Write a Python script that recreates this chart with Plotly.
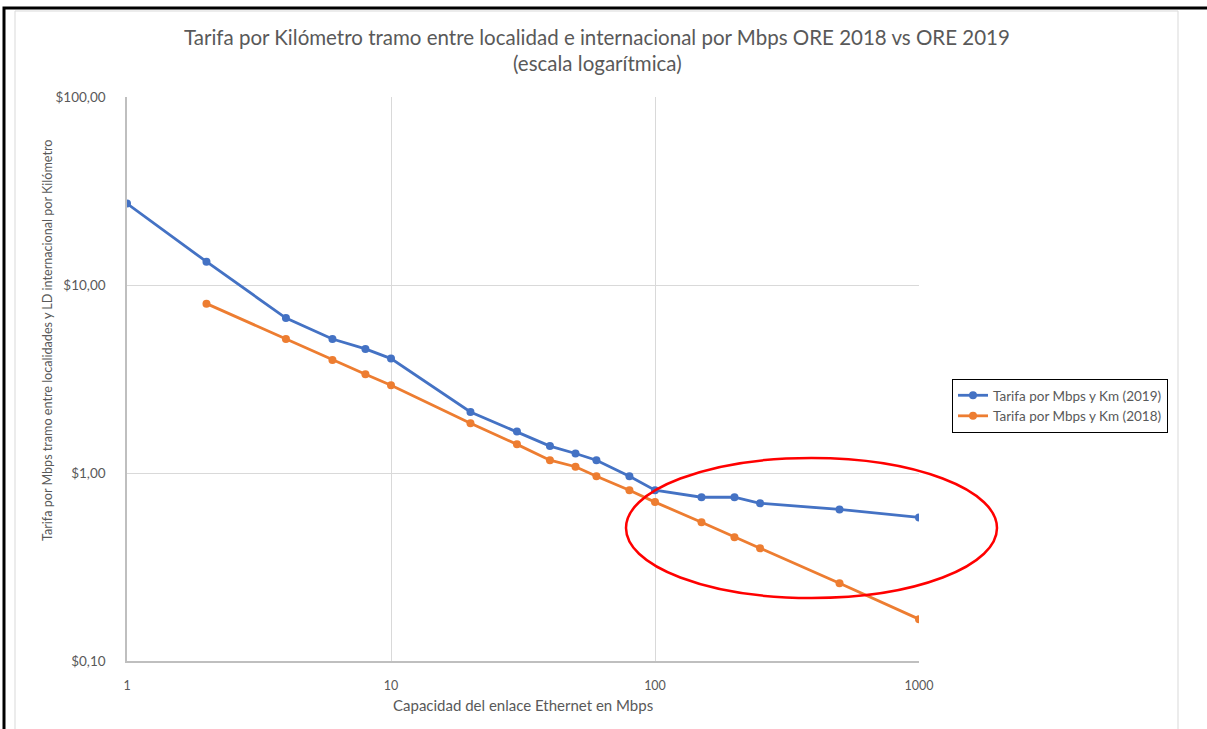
import plotly.graph_objects as go

# Data
capacidad_2019 = [1, 2, 4, 6, 8, 10, 20, 30, 40, 50, 60, 80, 100, 150, 200, 250, 500, 1000]
tarifa_2019 = [27.1, 13.3, 6.67, 5.16, 4.57, 4.06, 2.11, 1.66, 1.39, 1.27, 1.17, 0.96, 0.81,
               0.743, 0.743, 0.69, 0.64, 0.58]
capacidad_2018 = [2, 4, 6, 8, 10, 20, 30, 40, 50, 60, 80, 100, 150, 200, 250, 500, 1000]
tarifa_2018 = [7.96, 5.16, 3.99, 3.35, 2.93, 1.84, 1.42, 1.17, 1.08, 0.96, 0.81, 0.70,
               0.547, 0.455, 0.398, 0.259, 0.167]
x_ticks = [1, 10, 100, 1000]
x_ticktext = ["1", "10", "100", "1000"]
y_ticks = [0.1, 1, 10, 100]
y_ticktext = ["$0,10", "$1,00", "$10,00", "$100,00"]
title_lines = ["Tarifa por Kilómetro tramo entre localidad e internacional por Mbps ORE 2018 vs ORE 2019",
               "(escala logarítmica)"]
x_title = "Capacidad del enlace Ethernet en Mbps"
y_title = "Tarifa por Mbps tramo entre localidades y LD internacional por Kilómetro"

FONT = "Lato, 'Open Sans', sans-serif"
GRAY = "#595959"

W, H = 1207, 729
L, R, T, B = 127, 919, 97, 661


def px(x):
    return (x - L) / (R - L)


def py(y):
    return (B - y) / (B - T)


fig = go.Figure()
fig.add_trace(go.Scatter(
    x=capacidad_2019, y=tarifa_2019, mode="lines+markers",
    name="Tarifa por Mbps y Km (2019)",
    line=dict(color="#4472C4", width=2.8),
    marker=dict(color="#4472C4", size=8),
))
fig.add_trace(go.Scatter(
    x=capacidad_2018, y=tarifa_2018, mode="lines+markers",
    name="Tarifa por Mbps y Km (2018)",
    line=dict(color="#ED7D31", width=2.8),
    marker=dict(color="#ED7D31", size=8),
))

shapes = [
    # chart area light border
    dict(type="rect", xref="paper", yref="paper", x0=px(15), y0=py(745), x1=px(1178), y1=py(11),
         line=dict(color="#D9D9D9", width=1), layer="below"),
    # outer black frame (top and left edges visible)
    dict(type="rect", xref="paper", yref="paper", x0=px(4), y0=py(750), x1=px(1220), y1=py(8),
         line=dict(color="black", width=3)),
    # red ellipse
    dict(type="circle", xref="paper", yref="paper", x0=px(626), x1=px(997),
         y0=py(598), y1=py(458), line=dict(color="#FF0000", width=2.5)),
]

annotations = [
    dict(text=title_lines[0], xref="paper", yref="paper", x=px(597), y=py(37),
         xanchor="center", yanchor="middle", showarrow=False,
         font=dict(family=FONT, size=20.5, color=GRAY)),
    dict(text=title_lines[1], xref="paper", yref="paper", x=px(597), y=py(63),
         xanchor="center", yanchor="middle", showarrow=False,
         font=dict(family=FONT, size=20.5, color=GRAY)),
    dict(text=y_title, xref="paper", yref="paper", x=px(47), y=py(341),
         xanchor="center", yanchor="middle", showarrow=False, textangle=-90,
         font=dict(family=FONT, size=12.6, color=GRAY)),
    dict(text=x_title, xref="paper", yref="paper", x=px(523), y=py(705),
         xanchor="center", yanchor="middle", showarrow=False,
         font=dict(family=FONT, size=15, color=GRAY)),
]

fig.update_layout(
    width=W, height=H,
    margin=dict(l=L, r=W - R, t=T, b=H - B),
    paper_bgcolor="white", plot_bgcolor="white",
    font=dict(family=FONT, color=GRAY, size=12),
    xaxis=dict(
        type="log", range=[0, 3],
        tickvals=x_ticks, ticktext=x_ticktext,
        showgrid=True, gridcolor="#D9D9D9", gridwidth=1,
        showline=True, linecolor="#BFBFBF", linewidth=1.5,
        ticks="", ticklabelstandoff=12,
        tickfont=dict(size=12.5, color=GRAY),
        zeroline=False,
    ),
    yaxis=dict(
        type="log", range=[-1, 2],
        tickvals=y_ticks, ticktext=y_ticktext,
        showgrid=True, gridcolor="#D9D9D9", gridwidth=1,
        showline=True, linecolor="#BFBFBF", linewidth=1.5,
        ticks="", ticklabelstandoff=17,
        tickfont=dict(size=13.5, color=GRAY),
        zeroline=False,
    ),
    legend=dict(
        x=px(952), y=py(379), xanchor="left", yanchor="top",
        bordercolor="black", borderwidth=1, bgcolor="white",
        font=dict(size=13.5, color=GRAY, family=FONT),
        itemwidth=30, tracegroupgap=2,
    ),
    shapes=shapes,
    annotations=annotations,
    showlegend=True,
)

fig.write_html("out.html", config={"displayModeBar": False},
               post_script="document.body.style.margin='0';document.body.style.padding='0';")
